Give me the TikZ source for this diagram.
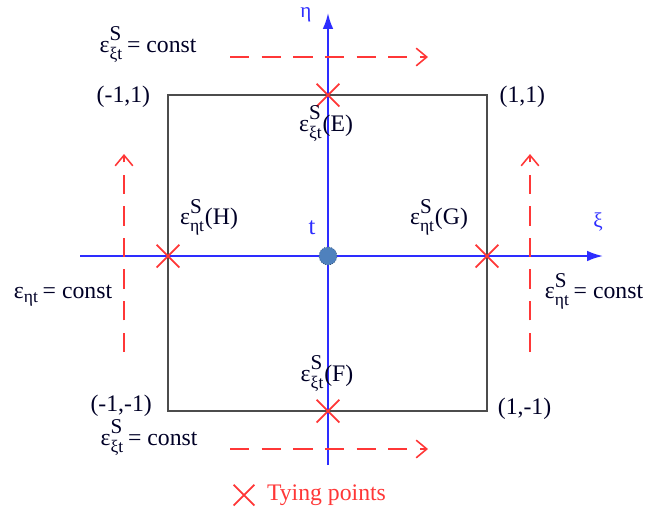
\documentclass[tikz,border=0pt]{standalone}
\usepackage{amsmath}
\usepackage{fontspec}
\setmainfont{Liberation Serif}
\usetikzlibrary{arrows.meta,shapes.misc,positioning}
\definecolor{axisblue}{RGB}{45,45,255}
\definecolor{dashred}{RGB}{255,55,55}
\definecolor{dotblue}{RGB}{79,129,189}
\newcommand{\strain}[2]{ε$^{\raisebox{1.5pt}{\fontsize{12}{12}\selectfont #1}}_{\text{\fontsize{10}{10}\selectfont #2}}$}

\begin{document}
\begin{tikzpicture}[
    x=0.02cm, y=-0.02cm,
    lbl/.style={font=\fontsize{13.5}{15}\selectfont, inner sep=1pt, text=black!85!blue},
    greek/.style={font=\fontsize{12}{14}\selectfont, inner sep=1pt, text=axisblue},
    tie/.style={cross out, draw=dashred, line width=1pt, minimum size=0.42cm, inner sep=0pt},
    axis/.style={-{Latex[length=9pt,width=6pt]}, line width=1.1pt, color=axisblue},
    dasharrow/.style={-{Straight Barb[length=6pt,width=10pt]}, line width=0.9pt, color=dashred, dash pattern=on 11pt off 7pt}
]
    \useasboundingbox (0,0) rectangle (647,512);

    % Element corners
    \coordinate (nw) at (168,95);
    \coordinate (ne) at (487,95);
    \coordinate (sw) at (168,411);
    \coordinate (se) at (487,411);
    \draw[line width=1.2pt, black!70] (nw) rectangle (se);

    % Axes
    \coordinate (xs) at (80,256);
    \coordinate (xe) at (603,256);
    \coordinate (ys) at (328,465);
    \coordinate (ye) at (328,13);
    \draw[axis] (xs) -- (xe);
    \draw[axis] (ys) -- (ye);
    \node[greek] (eta) at (306,15) {η};
    \node[greek] (xi) at (598,222) {ξ};

    % Center point
    \node[circle, fill=dotblue, draw=dotblue!60!black, densely dotted, minimum size=0.36cm, inner sep=0pt] (t) at (328,256) {};
    \node[greek, font=\fontsize{14}{16}\selectfont] (tlbl) at (312,228) {t};

    % Tying points
    \node[tie] (E) at (328,95) {};
    \node[tie] (F) at (328,411) {};
    \node[tie] (H) at (168,256) {};
    \node[tie] (G) at (487,256) {};

    % Dashed arrows
    \coordinate (ta) at (230,57);  \coordinate (tb) at (428,57);
    \coordinate (ba) at (230,449); \coordinate (bb) at (428,449);
    \coordinate (la) at (124,352); \coordinate (lb) at (124,154);
    \coordinate (ra) at (530,352); \coordinate (rb) at (530,154);
    \draw[dasharrow] (ta) -- (tb);
    \draw[dasharrow] (ba) -- (bb);
    \draw[dasharrow] (la) -- (lb);
    \draw[dasharrow] (ra) -- (rb);

    % Labels
    \node[lbl, left=9pt of nw, yshift=-1pt] (cnw) {(-1,1)};
    \node[lbl, right=6pt of ne, yshift=-1pt] (cne) {(1,1)};
    \node[lbl, left=8pt of sw, yshift=3pt] (csw) {(-1,-1)};
    \node[lbl, right=5pt of se, yshift=1pt] (cse) {(1,-1)};
    \node[lbl] (lE) at (326,124) {\strain{S}{ξt}(E)};
    \node[lbl] (lF) at (327,374) {\strain{S}{ξt}(F)};
    \node[lbl] (lH) at (209,217) {\strain{S}{ηt}(H)};
    \node[lbl] (lG) at (439,217) {\strain{S}{ηt}(G)};
    \node[lbl] (ctop) at (148,45) {\strain{S}{ξt}\,= const};
    \node[lbl] (cbot) at (149,438) {\strain{S}{ξt}\,= const};
    \node[lbl] (cleft) at (63,296) {ε$_{\text{\fontsize{10}{10}\selectfont ηt}}$\,= const};
    \node[lbl] (cright) at (594,291) {\strain{S}{ηt}\,= const};

    % Legend
    \node[tie, minimum size=0.38cm] (key) at (244,495) {};
    \node[lbl, text=dashred, right=6pt of key] (keytxt) {Tying points};

\end{tikzpicture}
\end{document}
